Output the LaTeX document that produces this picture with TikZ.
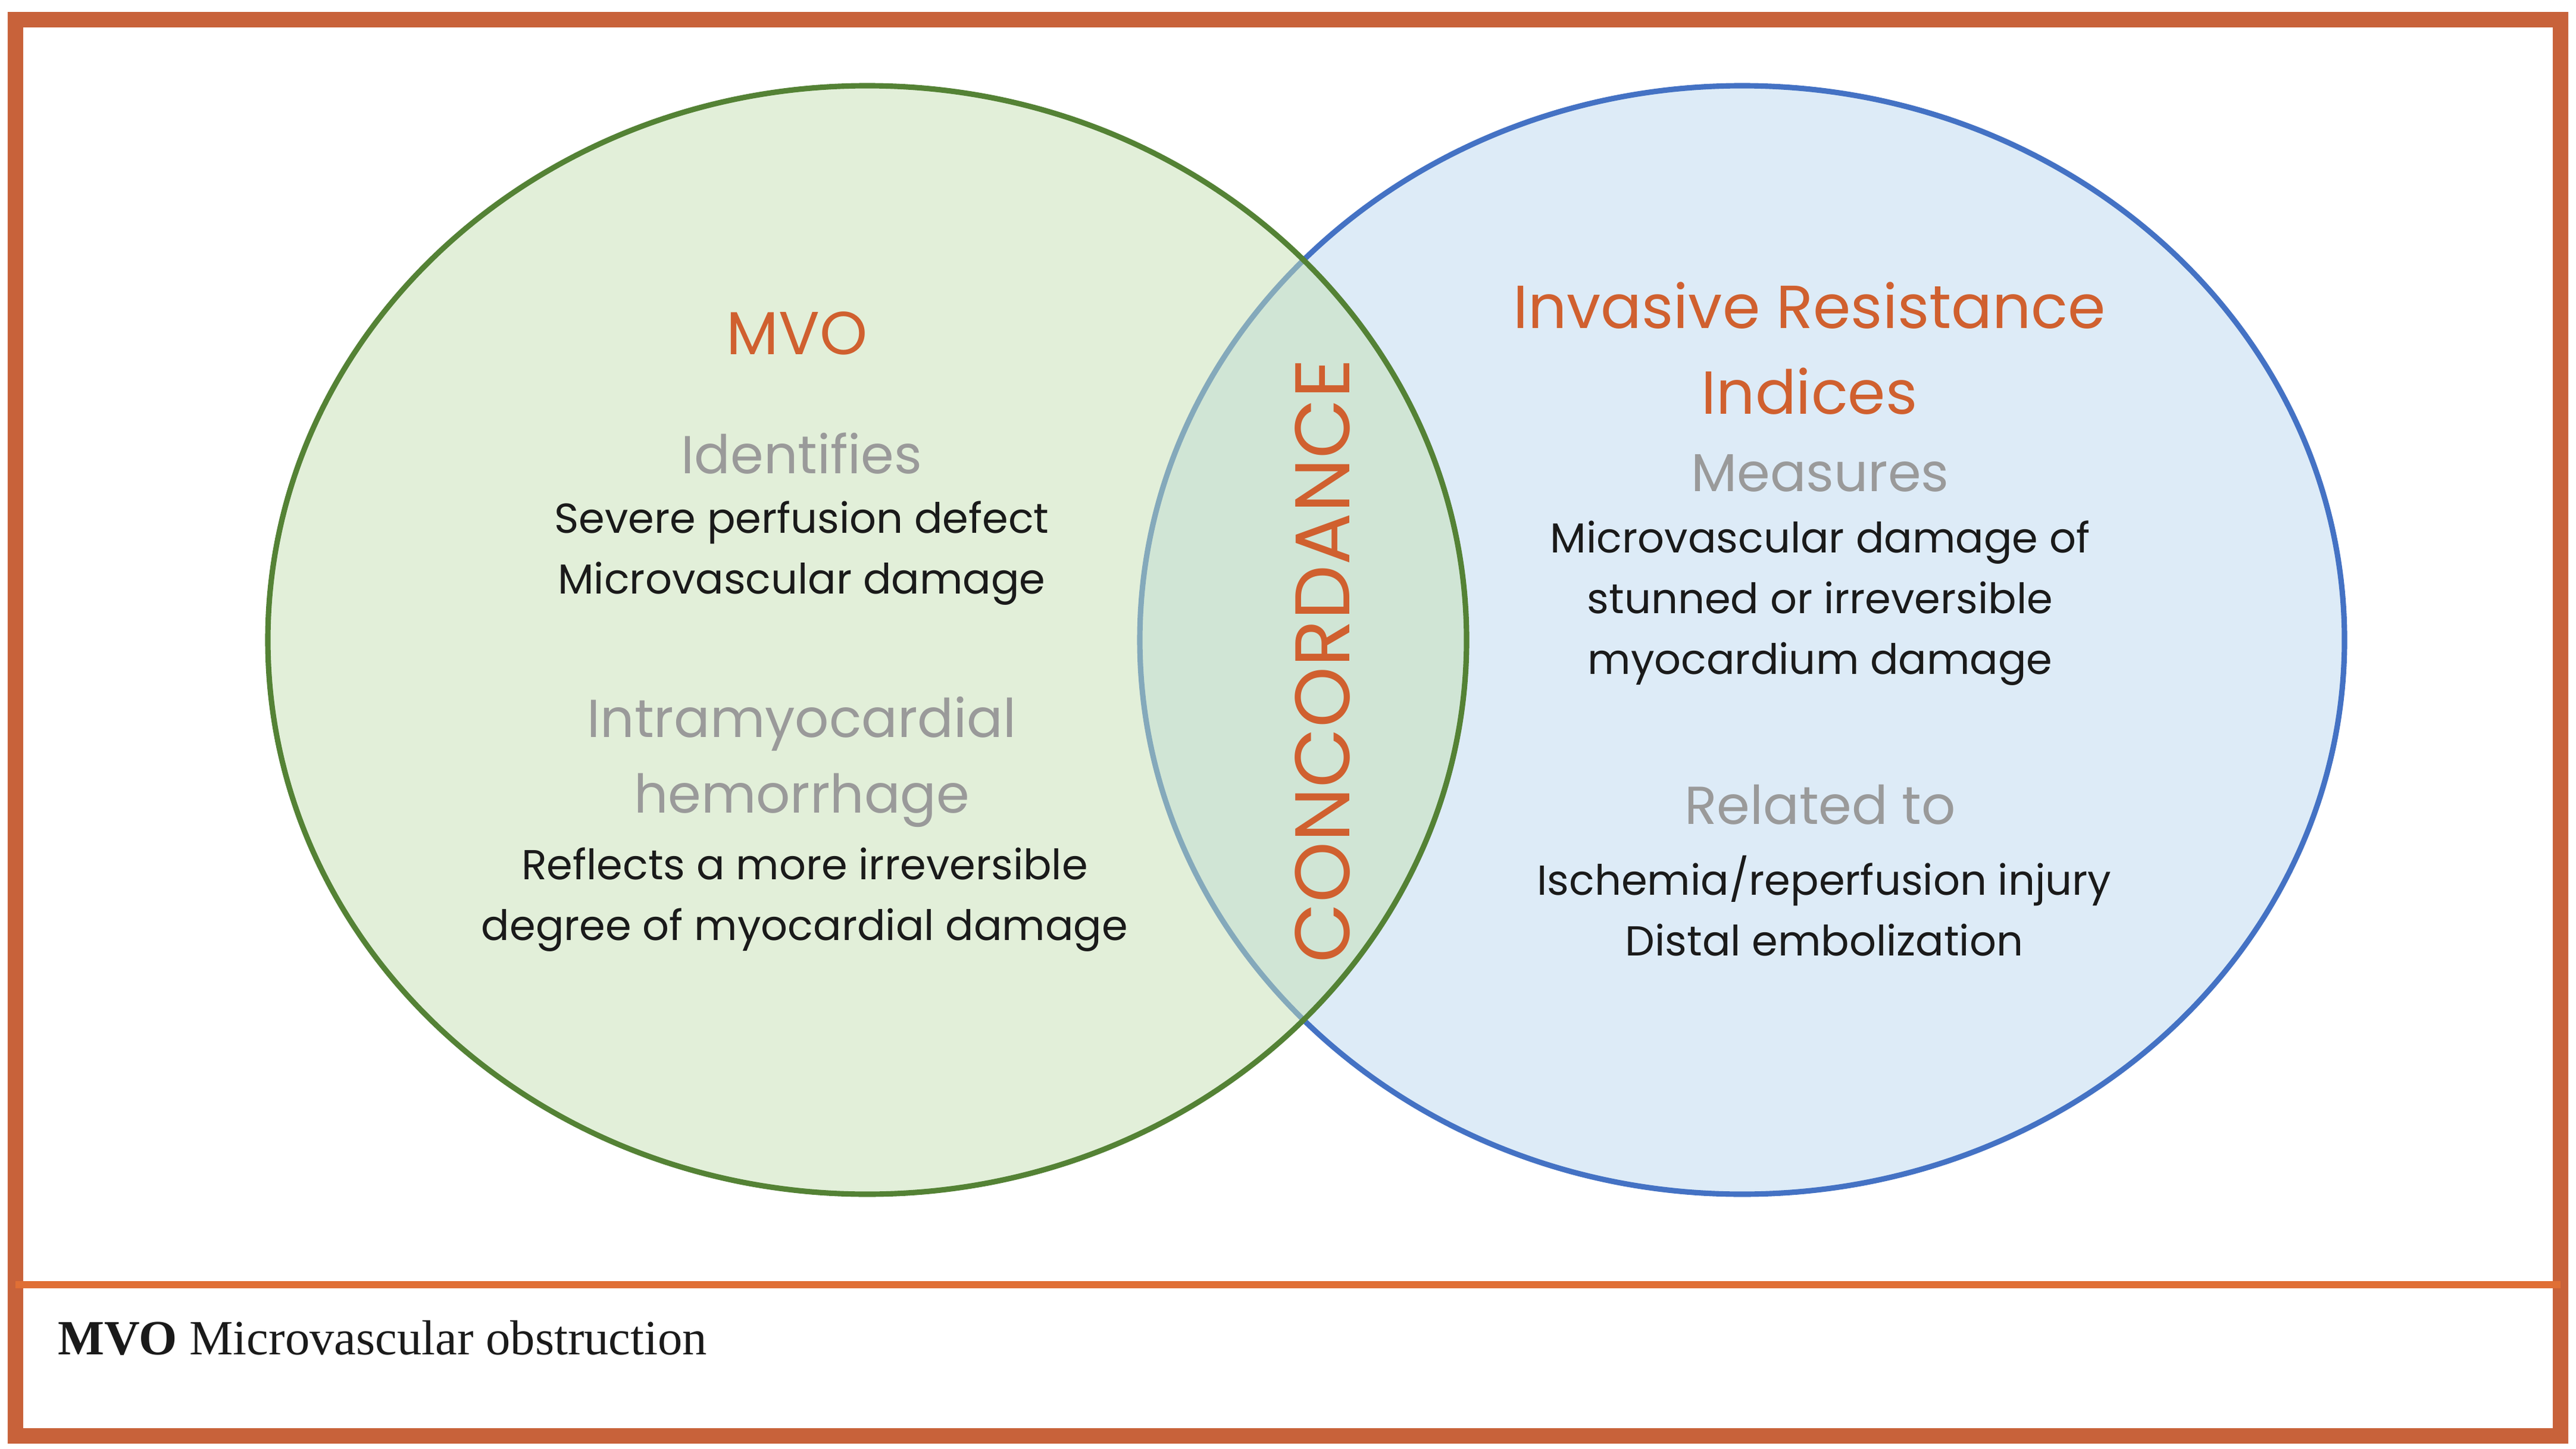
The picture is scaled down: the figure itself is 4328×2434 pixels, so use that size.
\documentclass[tikz,border=0pt]{standalone}
\usepackage{fontspec}
\setmainfont{Liberation Serif}
\newfontfamily\hand{Poppins}
\usetikzlibrary{positioning}
\definecolor{frame}{HTML}{C8623A}
\definecolor{rule}{HTML}{E06F35}
\definecolor{grline}{HTML}{548235}
\definecolor{grfill}{HTML}{C5E0B4}
\definecolor{blline}{HTML}{4472C4}
\definecolor{blfill}{HTML}{DDEBF7}
\definecolor{ttl}{HTML}{D0602F}
\definecolor{sub}{HTML}{9A9A9A}
\definecolor{txt}{HTML}{1A1A1A}
\tikzset{
  title/.style={text=ttl,align=center,font=\hand\fontsize{29}{41}\selectfont},
  head/.style={text=sub,align=center,font=\hand\fontsize{25.5}{36}\selectfont},
  body/.style={text=txt,align=center,font=\hand\fontsize{20}{29}\selectfont},
}
\begin{document}
\begin{tikzpicture}[x=0.01cm,y=-0.01cm]
\useasboundingbox (0,0) rectangle (4328,2434);
% \draw[help lines] (0,0) grid (4328,2434);
\draw[frame,line width=7.5pt] (26,33) rectangle (4302,2412);
\draw[rule,line width=3.6pt] (26,2158) -- (4302,2158);
%
\path[draw=blline,fill=blfill,line width=2.6pt] (2927,1075) ellipse [x radius=1012,y radius=931];
\path[fill=grfill,fill opacity=0.5] (1457,1075) ellipse [x radius=1007,y radius=931];
\draw[grline,line width=2.6pt] (1457,1075) ellipse [x radius=1007,y radius=931];
%
\node (mvo) [title] at (1339,560) {MVO};
\node (g1) [head] at (1347,762) {Identifies};
\node (g2) [body] at (1347,929) {Severe perfusion defect\\Microvascular damage};
\node (g3) [head] at (1347,1280) {Intramyocardial\\hemorrhage};
\node (g4) [body] at (1352,1511) {Reflects a more irreversible\\degree of myocardial damage};
%
\node (conc) [title,rotate=90,font=\hand\fontsize{37}{40}\selectfont] at (2222,1110) {CONCORDANCE};
%
\node (iri) [title] at (3040,585) {Invasive Resistance\\Indices};
\node (b1) [head] at (3058,795) {Measures};
\node (b2) [body] at (3058,1013) {Microvascular damage of\\stunned or irreversible\\myocardium damage};
\node (b3) [head] at (3058,1352) {Related to};
\node (b4) [body] at (3065,1522) {Ischemia/reperfusion injury\\Distal embolization};
%
\node (foot) [anchor=west,text=txt,font=\fontsize{23.5}{28}\selectfont] at (85,2247) {\textbf{MVO} Microvascular obstruction};
\end{tikzpicture}
\end{document}
